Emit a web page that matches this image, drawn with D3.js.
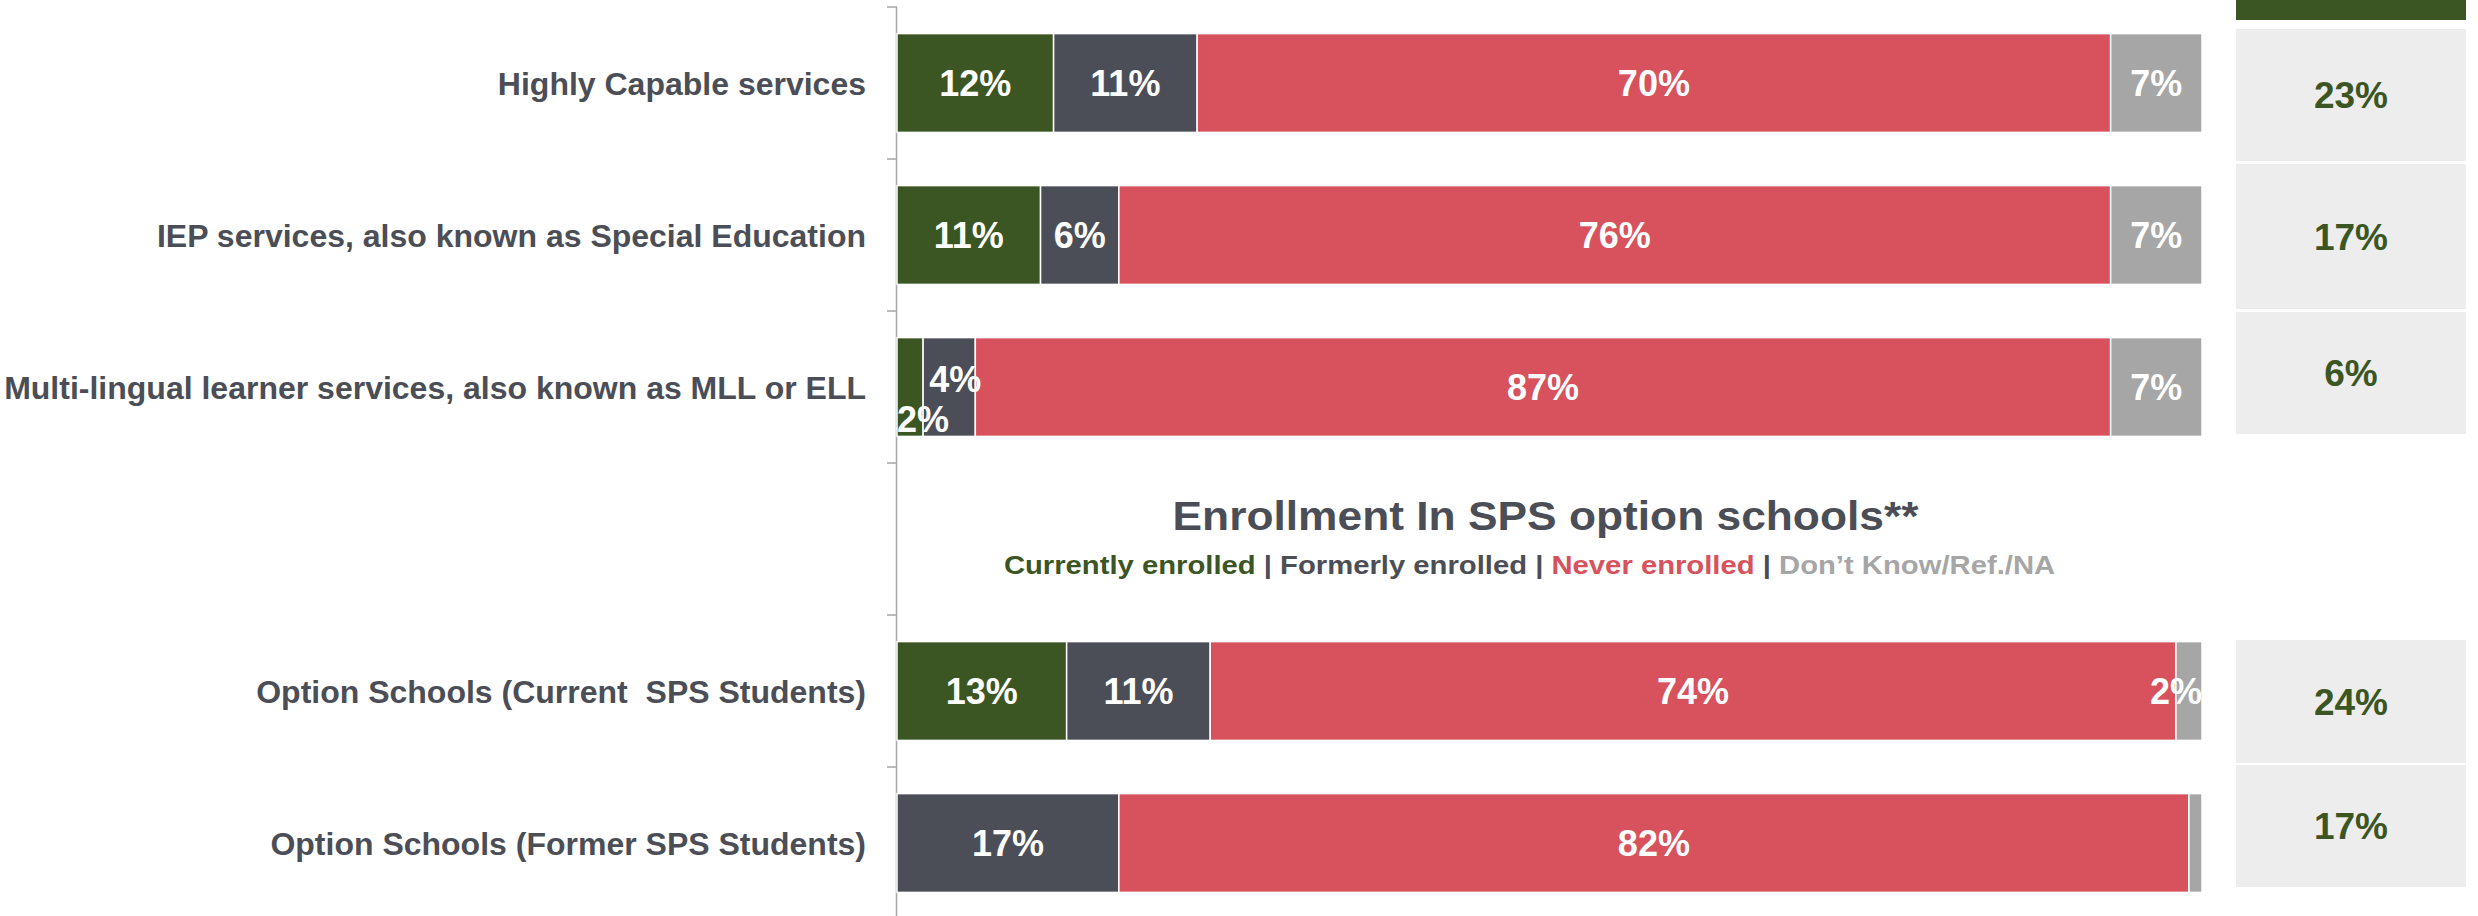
<!DOCTYPE html>
<html>
<head>
<meta charset="utf-8">
<script src="https://cdn.jsdelivr.net/npm/d3@7"></script>
<style>
  html, body { margin: 0; padding: 0; background: #ffffff; }
  svg { display: block; font-family: "Liberation Sans", Arial, sans-serif; font-weight: bold; }
  text { white-space: pre; }
</style>
</head>
<body>
<div id="chart"></div>
<script>
// rows (a blank slot holds the option school heading)
const categories = [
    'Highly Capable services',
    'IEP services, also known as Special Education',
    'Multi-lingual learner services, also known as MLL or ELL',
    '',
    'Option Schools (Current  SPS Students)',
    'Option Schools (Former SPS Students)',
];
const seriesNames = ['Currently enrolled', 'Formerly enrolled', 'Never enrolled', 'Don\u2019t Know/Ref./NA'];
const currently = [12, 11, 2, null, 13, 0];
const formerly = [11, 6, 4, null, 11, 17];
const never = [70, 76, 87, null, 74, 82];
const dontKnow = [7, 7, 7, null, 2, 1];
const everEnrolled = [23, 17, 6, null, 24, 17];
const sectionTitle = 'Enrollment In SPS option schools**';

const colors = ['#3b5523', '#4b4e56', '#d8525e', '#a6a6a6'];
const textGray = '#4b4e56';

const width = 2478;
const height = 916;
const svg = d3.select('#chart').append('svg')
    .attr('width', width)
    .attr('height', height);

const x = d3.scaleLinear().domain([0, 100]).range([897, 2202]);
const y = d3.scaleBand()
    .domain(categories.map((d, i) => i))
    .range([7, 919])
    .paddingInner(0.35)
    .paddingOuter(0.175);

const series = [currently, formerly, never, dontKnow];
const rows = categories.map((c, i) => {
    if (currently[i] === null) return null;
    let acc = 0;
    return series.map((s, k) => {
        const seg = { row: i, key: k, value: s[i], x0: acc, x1: acc + s[i] };
        acc += s[i];
        return seg;
    });
});

// axis line + ticks at band boundaries
const axisColor = '#a6a6a6';
svg.append('line')
    .attr('x1', x(0) - 0.5).attr('x2', x(0) - 0.5)
    .attr('y1', y.range()[0]).attr('y2', y.range()[1])
    .attr('stroke', axisColor).attr('stroke-width', 1.5);
const tickYs = y.domain().map((d) => y(d) - (y.step() * y.paddingInner()) / 2);
svg.selectAll('.tick')
    .data(tickYs)
    .join('line')
    .attr('x1', x(0) - 10).attr('x2', x(0))
    .attr('y1', (d) => d).attr('y2', (d) => d)
    .attr('stroke', axisColor).attr('stroke-width', 1.5);

// category labels
svg.selectAll('.cat')
    .data(categories)
    .join('text')
    .attr('x', x(0) - 31)
    .attr('y', (d, i) => y(i) + y.bandwidth() / 2)
    .attr('dy', '0.36em')
    .attr('text-anchor', 'end')
    .attr('font-size', 32)
    .attr('fill', textGray)
    .text((d) => d);

// stacked segments
const segs = rows.filter((r) => r).flat();
svg.selectAll('.seg')
    .data(segs)
    .join('rect')
    .attr('x', (d) => x(d.x0))
    .attr('y', (d) => y(d.row))
    .attr('width', (d) => Math.max(0, x(d.x1) - x(d.x0)))
    .attr('height', y.bandwidth())
    .attr('fill', (d) => colors[d.key])
    .attr('stroke', '#ffffff')
    .attr('stroke-width', (d) => (d.value > 0 ? 1.5 : 0));

// segment value labels
const labelSize = 36;
rows.forEach((r) => {
    if (!r) return;
    const shown = r.filter((d) => d.value >= 2);
    const nodes = shown.map((d) => {
        const t = svg.append('text')
            .attr('font-size', labelSize)
            .attr('fill', '#ffffff')
            .attr('text-anchor', 'middle')
            .attr('dy', '0.36em')
            .text(d.value + '%');
        const w = t.node().getComputedTextLength();
        let cx = (x(d.x0) + x(d.x1)) / 2;
        cx = Math.max(x(0) + w / 2, Math.min(x(100) - w / 2, cx));
        return { t, d, w, cx, cy: y(d.row) + y.bandwidth() / 2 };
    });
    for (let i = 1; i < nodes.length; i++) {
        const a = nodes[i - 1];
        const b = nodes[i];
        if (b.cx - b.w / 2 < a.cx + a.w / 2) {
            a.cy += 32;
            b.cy -= 8;
            b.cx += 6;
        }
    }
    nodes.forEach((n) => n.t.attr('x', n.cx).attr('y', n.cy));
});

// stretch a text horizontally to a given width around cx
function stretchTo(sel, cx, target) {
    const w = sel.node().getComputedTextLength();
    const k = target / w;
    sel.attr('transform', `translate(${cx},0) scale(${k},1) translate(${-cx},0)`);
}

// heading + colour key in the blank slot
const gapRow = categories.indexOf('');
const midX = (x(0) + x(100)) / 2;
const titleX = midX - 4;
const title = svg.append('text')
    .attr('x', titleX)
    .attr('y', y(gapRow) + 40)
    .attr('text-anchor', 'middle')
    .attr('font-size', 40)
    .attr('fill', textGray)
    .text(sectionTitle);
stretchTo(title, titleX, 746);

const keyX = midX - 20;
const key = svg.append('text')
    .attr('x', keyX)
    .attr('y', y(gapRow) + 84)
    .attr('text-anchor', 'middle')
    .attr('font-size', 26);
seriesNames.forEach((n, i) => {
    if (i > 0) key.append('tspan').attr('fill', textGray).text(' | ');
    key.append('tspan').attr('fill', colors[i]).text(n);
});
stretchTo(key, keyX, 1052);

// side table: ever enrolled
const table = { left: 2236, right: 2466, header: [0, 20], cells: [[29, 161], [164, 309], [312, 434], null, [640, 763], [765, 887]] };
svg.append('rect')
    .attr('x', table.left).attr('y', table.header[0])
    .attr('width', table.right - table.left)
    .attr('height', table.header[1] - table.header[0])
    .attr('fill', colors[0]);
const cells = everEnrolled.map((v, i) => ({ v, c: table.cells[i] })).filter((d) => d.v !== null);
svg.selectAll('.cell')
    .data(cells)
    .join('rect')
    .attr('x', table.left)
    .attr('y', (d) => d.c[0])
    .attr('width', table.right - table.left)
    .attr('height', (d) => d.c[1] - d.c[0])
    .attr('fill', '#ededed');
svg.selectAll('.cellText')
    .data(cells)
    .join('text')
    .attr('x', (table.left + table.right) / 2)
    .attr('y', (d) => (d.c[0] + d.c[1]) / 2)
    .attr('dy', '0.36em')
    .attr('text-anchor', 'middle')
    .attr('font-size', 37)
    .attr('fill', colors[0])
    .text((d) => d.v + '%');
</script>
</body>
</html>
